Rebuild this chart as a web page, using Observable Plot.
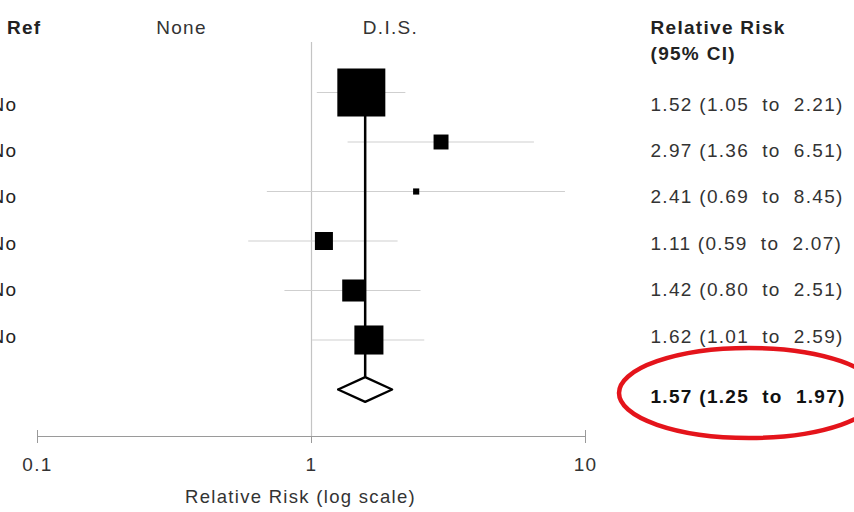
<!DOCTYPE html>
<html>
<head>
<meta charset="utf-8">
<script src="https://cdn.jsdelivr.net/npm/d3@7"></script>
<script src="https://cdn.jsdelivr.net/npm/@observablehq/plot@0.6"></script>
<style>
  html, body { margin: 0; padding: 0; background: #fff; }
  #chart { position: relative; width: 854px; height: 512px; overflow: hidden; }
  #chart svg { position: absolute; left: 0; top: 0; max-width: none; }
  svg text { white-space: pre; }
</style>
</head>
<body>
<div id="chart"></div>
<script>
// ---- data ----
const refLabels = ["No", "No", "No", "No", "No", "No"];
const estimates = [1.52, 2.97, 2.41, 1.11, 1.42, 1.62];
const lowerCI   = [1.05, 1.36, 0.69, 0.59, 0.80, 1.01];
const upperCI   = [2.21, 6.51, 8.45, 2.07, 2.51, 2.59];
const weights   = [54.6, 5.3, 0.9, 7.7, 11.5, 20.0];
const pooledEstimate = 1.57;
const pooledLower = 1.25;
const pooledUpper = 1.97;
const xTicks = [0.1, 1, 10];
const leftHeader = "y Ref";
const groupHeaders = ["None", "D.I.S."];
const rightHeader = ["Relative Risk", "(95% CI)"];
const axisLabel = "Relative Risk (log scale)";

// ---- derived tables ----
const f2 = d3.format(".2f");
const ciText = (e, l, u) => `${f2(e)} (${f2(l)}  to  ${f2(u)})`;
const rows = estimates.map((e, i) => ({
  row: i, label: refLabels[i], est: e, lo: lowerCI[i], hi: upperCI[i], w: weights[i],
  text: ciText(e, lowerCI[i], upperCI[i])
}));
const pooledRow = rows.length;
const halfH = 0.25; // diamond half-height in row units
const diamond = [
  {x: pooledLower, y: pooledRow},
  {x: pooledEstimate, y: pooledRow - halfH},
  {x: pooledUpper, y: pooledRow},
  {x: pooledEstimate, y: pooledRow + halfH},
  {x: pooledLower, y: pooledRow}
];

const font = "'Liberation Sans', Arial, Helvetica, sans-serif";
const textColor = "#222";
const ls = "1.3px";

// ---- graphic layer: forest plot ----
const graphic = Plot.plot({
  width: 854,
  height: 512,
  marginTop: 42,
  marginBottom: 76,
  marginLeft: 37,
  marginRight: 269,
  x: {type: "log", domain: [0.1, 10], range: [37, 585]},
  y: {domain: [0, 6], range: [92, 389], axis: null},
  r: {type: "sqrt", domain: [0, d3.max(weights)], range: [0, 48 / Math.sqrt(Math.PI)]},
  style: {fontFamily: font, fontSize: "19px", background: "#fff", color: textColor, letterSpacing: ls},
  marks: [
    Plot.frame({anchor: "bottom", stroke: "#9a9a9a"}),
    Plot.axisX({ticks: xTicks, tickSize: 13, dy: -6, tickFormat: () => "", stroke: "#9a9a9a", label: null}),
    Plot.axisX({ticks: xTicks, tickSize: 0, tickPadding: 21, tickFormat: d3.format("~g"), fontSize: 19, fill: "#333", label: null}),
    Plot.text([axisLabel], {frameAnchor: "bottom", dx: -11, dy: 66, fontSize: 18.5, fill: "#333"}),
    Plot.ruleX([1], {stroke: "#c4c4c4", strokeWidth: 1.2}),
    Plot.ruleY(rows, {y: "row", x1: "lo", x2: "hi", stroke: "#cfcfcf", strokeWidth: 1.2}),
    Plot.ruleX([pooledEstimate], {y1: 0, y2: pooledRow - halfH, stroke: "#000", strokeWidth: 2.5}),
    Plot.dot(rows, {x: "est", y: "row", r: "w", symbol: "square", fill: "#000", stroke: null}),
    Plot.line(diamond, {x: "x", y: "y", fill: "#fff", stroke: "#000", strokeWidth: 2.2, curve: "linear"}),
    // red annotation ellipse around the pooled result
    (index, scales, values, dimensions) => {
      const cy = scales.y(pooledRow) + 4;
      const cx = dimensions.width - dimensions.marginRight + 164;
      const el = document.createElementNS("http://www.w3.org/2000/svg", "ellipse");
      el.setAttribute("cx", cx);
      el.setAttribute("cy", cy);
      el.setAttribute("rx", 130);
      el.setAttribute("ry", 45);
      el.setAttribute("fill", "none");
      el.setAttribute("stroke", "#e4141b");
      el.setAttribute("stroke-width", 4.5);
      return el;
    }
  ]
});

// ---- table layer: labels and RR (95% CI) text ----
const table = Plot.plot({
  width: 854,
  height: 512,
  marginTop: 0,
  marginBottom: 0,
  marginLeft: 0,
  marginRight: 204,
  y: {domain: [0, 5], range: [104, 336], axis: null},
  style: {fontFamily: font, fontSize: "19px", background: "transparent", color: textColor, letterSpacing: ls, pointerEvents: "none"},
  marks: [
    Plot.text([leftHeader], {frameAnchor: "top-left", dx: 41, dy: 20, textAnchor: "end", fontWeight: "bold", fill: textColor, letterSpacing: "0.5px"}),
    Plot.text([groupHeaders[0]], {frameAnchor: "top", dx: -144, dy: 20, fill: "#333"}),
    Plot.text([groupHeaders[1]], {frameAnchor: "top", dx: 65, dy: 20, fill: "#333"}),
    Plot.text([rightHeader[0]], {frameAnchor: "top-right", dy: 20, textAnchor: "start", fontWeight: "bold", fill: textColor}),
    Plot.text([rightHeader[1]], {frameAnchor: "top-right", dy: 46, textAnchor: "start", fontWeight: "bold", fill: textColor}),
    Plot.text(rows, {y: "row", text: "label", frameAnchor: "left", dx: -10, textAnchor: "start", fill: textColor}),
    Plot.text(rows, {y: "row", text: "text", frameAnchor: "right", textAnchor: "start", fill: "#333"}),
    Plot.text([ciText(pooledEstimate, pooledLower, pooledUpper)], {y: () => pooledRow, frameAnchor: "right", dy: 14, textAnchor: "start", fontWeight: "bold", fill: "#111"})
  ]
});

const root = document.getElementById("chart");
root.appendChild(graphic);
root.appendChild(table);
</script>
</body>
</html>
